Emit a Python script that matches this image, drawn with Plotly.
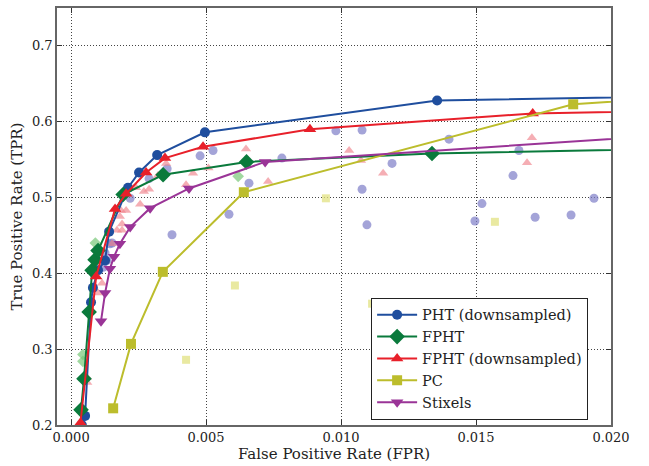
import plotly.graph_objects as go

# ---- main series (downsampled / summary curves) ----
pht_ds_fpr = [0.00040, 0.00052, 0.00074, 0.00081, 0.00100, 0.00126, 0.00141, 0.00211, 0.00252, 0.00319, 0.00496, 0.01356, 0.0300]
pht_ds_tpr = [0.200, 0.212, 0.362, 0.381, 0.404, 0.417, 0.455, 0.513, 0.533, 0.556, 0.586, 0.628, 0.638]

fpht_fpr = [0.00037, 0.00048, 0.00067, 0.00078, 0.00089, 0.00100, 0.00193, 0.00341, 0.00650, 0.01337, 0.0300]
fpht_tpr = [0.220, 0.261, 0.349, 0.404, 0.418, 0.430, 0.504, 0.530, 0.547, 0.558, 0.570]

fpht_ds_fpr = [0.00035, 0.00093, 0.00163, 0.00204, 0.00278, 0.00348, 0.00489, 0.00885, 0.01710, 0.0300]
fpht_ds_tpr = [0.203, 0.396, 0.485, 0.505, 0.533, 0.552, 0.567, 0.590, 0.611, 0.619]

pc_fpr = [0.00156, 0.00222, 0.00340, 0.00640, 0.01860, 0.0300]
pc_tpr = [0.222, 0.307, 0.402, 0.507, 0.623, 0.650]

stix_fpr = [0.00111, 0.00126, 0.00144, 0.00159, 0.00181, 0.00219, 0.00293, 0.00437, 0.00719, 0.0300]
stix_tpr = [0.337, 0.374, 0.406, 0.422, 0.439, 0.461, 0.486, 0.512, 0.547, 0.601]

# ---- faded scatter (individual parameter settings) ----
pht_pts_fpr = [0.00119, 0.00126, 0.00133, 0.00144, 0.00152, 0.00219, 0.00289, 0.00356, 0.00374,
               0.00478, 0.00526, 0.00585, 0.00659, 0.00781, 0.00981, 0.01078, 0.01078, 0.01096, 0.01189,
               0.01400, 0.01496, 0.01522, 0.01637, 0.01659, 0.01719, 0.01852, 0.01937]
pht_pts_tpr = [0.408, 0.427, 0.417, 0.439, 0.440, 0.499, 0.525, 0.538, 0.451,
               0.555, 0.562, 0.478, 0.519, 0.552, 0.588, 0.589, 0.511, 0.464, 0.545,
               0.577, 0.469, 0.492, 0.529, 0.562, 0.474, 0.477, 0.499]

fpht_ds_pts_fpr = [0.00059, 0.00060, 0.00100, 0.00115, 0.00126, 0.00152, 0.00170, 0.00181, 0.00189, 0.00189,
                   0.00185, 0.00204, 0.00241, 0.00256, 0.00270, 0.00289, 0.00322, 0.00352, 0.00426, 0.00452,
                   0.00509, 0.00648, 0.00730, 0.01030, 0.01074, 0.01156, 0.01689, 0.01707]
fpht_ds_pts_tpr = [0.263, 0.256, 0.374, 0.387, 0.418, 0.439, 0.457, 0.475, 0.457, 0.465,
                   0.483, 0.483, 0.513, 0.491, 0.508, 0.511, 0.529, 0.545, 0.517, 0.532,
                   0.539, 0.564, 0.521, 0.562, 0.549, 0.532, 0.546, 0.579]

fpht_pts_fpr = [0.00044, 0.00044, 0.00090, 0.00619]
fpht_pts_tpr = [0.293, 0.284, 0.440, 0.528]

pc_pts_fpr = [0.00426, 0.00607, 0.00944, 0.01115, 0.01570]
pc_pts_tpr = [0.286, 0.384, 0.499, 0.360, 0.468]

FONT = "DejaVu Serif"

fig = go.Figure()

# faded scatter first (underneath)
fig.add_trace(go.Scatter(x=pht_pts_fpr, y=pht_pts_tpr, mode="markers", showlegend=False,
                         marker=dict(symbol="circle", size=9, color="rgba(125,125,200,0.7)")))
fig.add_trace(go.Scatter(x=fpht_ds_pts_fpr, y=fpht_ds_pts_tpr, mode="markers", showlegend=False,
                         marker=dict(symbol="triangle-up", size=9, color="rgba(240,130,140,0.65)")))
fig.add_trace(go.Scatter(x=fpht_pts_fpr, y=fpht_pts_tpr, mode="markers", showlegend=False,
                         marker=dict(symbol="diamond", size=9, color="rgba(120,200,120,0.7)")))
fig.add_trace(go.Scatter(x=pc_pts_fpr, y=pc_pts_tpr, mode="markers", showlegend=False,
                         marker=dict(symbol="square", size=8, color="rgba(225,225,130,0.75)")))

series = [
    ("PHT (downsampled)", pht_ds_fpr, pht_ds_tpr, "#1f4e9e", "circle", 10),
    ("FPHT", fpht_fpr, fpht_tpr, "#0a7a3c", "diamond", 12),
    ("FPHT (downsampled)", fpht_ds_fpr, fpht_ds_tpr, "#e8202a", "triangle-up", 11),
    ("PC", pc_fpr, pc_tpr, "#bcbd2c", "square", 10),
    ("Stixels", stix_fpr, stix_tpr, "#9a3497", "triangle-down", 11),
]
for name, xs, ys, col, sym, sz in series:
    fig.add_trace(go.Scatter(x=xs, y=ys, mode="lines+markers", name=name,
                             line=dict(color=col, width=2),
                             marker=dict(symbol=sym, size=sz, color=col, line=dict(width=0))))

axis_common = dict(
    showgrid=True, gridcolor="#444444", griddash="1px,2px", gridwidth=1,
    showline=True, linecolor="#666666", linewidth=1.5, mirror="ticks",
    ticks="inside", ticklen=5, tickcolor="#333333",
    tickfont=dict(family=FONT, size=13, color="#222222"),
    zeroline=False,
)

fig.update_layout(
    width=649, height=466,
    margin=dict(l=57, r=38, t=6, b=40),
    paper_bgcolor="white", plot_bgcolor="white",
    font=dict(family=FONT, color="#222222"),
    xaxis=dict(range=[-0.00052, 0.0200], tickvals=[0.0, 0.005, 0.010, 0.015, 0.020],
               ticktext=["0.000", "0.005", "0.010", "0.015", "0.020"],
               title=dict(text="False Positive Rate (FPR)", font=dict(family=FONT, size=15), standoff=4),
               **axis_common),
    yaxis=dict(range=[0.2, 0.75], tickvals=[0.2, 0.3, 0.4, 0.5, 0.6, 0.7],
               ticktext=["0.2", "0.3", "0.4", "0.5", "0.6", "0.7"],
               title=dict(text="True Positive Rate (TPR)", font=dict(family=FONT, size=15), standoff=6),
               **axis_common),
    legend=dict(x=0.567, y=0.305, xanchor="left", yanchor="top",
                bgcolor="white", bordercolor="#222222", borderwidth=1,
                font=dict(family=FONT, size=14.5, color="#222222"),
                tracegroupgap=0, itemwidth=40),
)

fig.write_html("out.html")
